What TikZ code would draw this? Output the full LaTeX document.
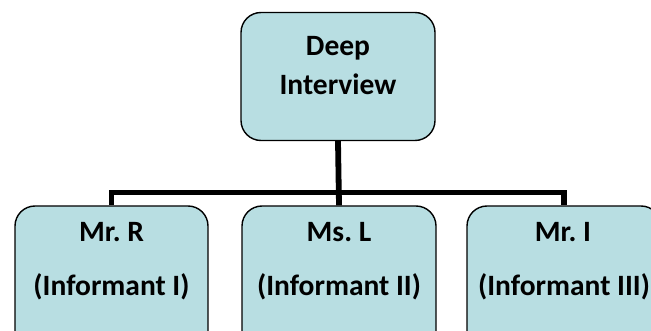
\documentclass[tikz,border=0pt]{standalone}
\usepackage{fontspec}
\setmainfont{Carlito}
\frenchspacing
\definecolor{boxfill}{RGB}{184,222,226}
\tikzset{
  box/.style={draw=black, line width=1.4pt, fill=boxfill, rounded corners=20pt, inner sep=0pt},
  lbl/.style={font=\fontsize{29.5}{34}\selectfont\bfseries, inner sep=0pt, anchor=base},
  conn/.style={line width=5.8pt, black}
}
\begin{document}
\begin{tikzpicture}[x=1pt,y=-1pt]
\useasboundingbox (0,0) rectangle (651,331);
\clip (0,0) rectangle (651,331);
% boxes
\node[box, minimum width=194pt, minimum height=128pt] (top) at (338,76.5) {};
\node[box, minimum width=193pt, minimum height=150pt] (b1) at (111.5,281) {};
\node[box, minimum width=194pt, minimum height=150pt] (b2) at (339,281) {};
\node[box, minimum width=194pt, minimum height=150pt] (b3) at (564,281) {};
% connectors
\coordinate (j) at (338,192.5);
\draw[conn] (top.south) -- (b2.north);
\draw[conn] (b1.north) -- (b1.north |- j) -- (b3.north |- j) -- (b3.north);
% texts
\node[lbl] (t1) at (338,56) {Deep};
\node[lbl] (t2) at (338,95) {Interview};
\node[lbl] (l1a) at (111.5,242) {Mr.\ R};
\node[lbl] (l1b) at (111.5,296) {(Informant I)};
\node[lbl] (l2a) at (339,242) {Ms.\ L};
\node[lbl] (l2b) at (339,296) {(Informant II)};
\node[lbl] (l3a) at (563,242) {Mr.\ I};
\node[lbl] (l3b) at (564,296) {(Informant III)};
\end{tikzpicture}
\end{document}
